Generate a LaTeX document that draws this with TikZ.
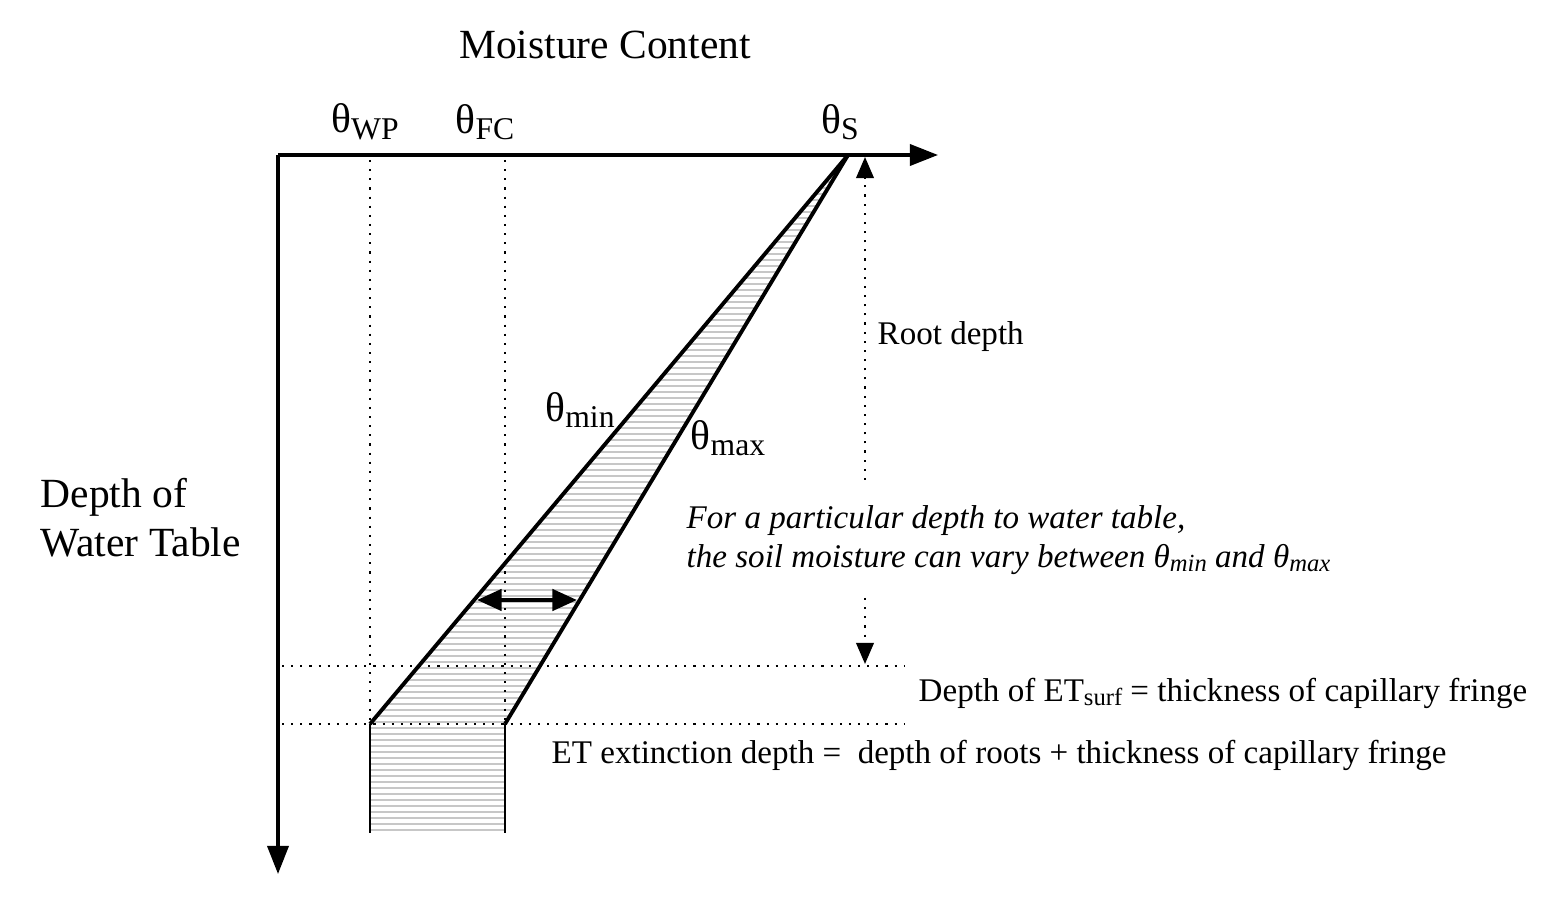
\documentclass[tikz,border=0pt]{standalone}
\usepackage{fontspec}
\setmainfont{Liberation Serif}
\usetikzlibrary{arrows.meta,positioning,calc}
\tikzstyle{axisline}=[line width=1pt,-{Triangle[length=8pt,width=6pt]}]
\tikzstyle{guide}=[dotted,line width=0.6pt]
\tikzstyle{bound}=[line width=1.1pt]
\tikzstyle{lbl}=[font=\fontsize{9.4}{11}\selectfont,inner sep=0pt]
\tikzstyle{biglbl}=[font=\fontsize{11.8}{14}\selectfont,inner sep=0pt]
\newcommand{\thsub}[1]{θ\raisebox{-0.35ex}{\fontsize{9}{10}\selectfont #1}}
\newcommand{\thsmall}[1]{\textit{θ\raisebox{-0.3ex}{\fontsize{7}{8}\selectfont #1}}}
\begin{document}
\begin{tikzpicture}[x=0.01cm,y=-0.01cm]
\useasboundingbox (0,0) rectangle (1564,910);

%corners of the band
\coordinate (orig) at (278,155);
\coordinate (apex) at (848,155);
\coordinate (minlow) at (370,724);
\coordinate (maxlow) at (505,724);
\coordinate (minbot) at (370,833);
\coordinate (maxbot) at (505,833);

%hatching
\begin{scope}
\clip (apex) -- (maxlow) -- (maxbot) -- (minbot) -- (minlow) -- cycle;
\foreach \y in {158,164,...,833}
  \draw[black!22,line width=0.5pt] (360,\y) -- (850,\y);
\end{scope}

%axes
\draw[axisline] (orig) -- (938,155);
\draw[axisline] (orig) -- (278,874);

%guides
\draw[guide] (370,160) -- (minlow);
\draw[guide] (505,160) -- (maxlow);
\draw[guide] (282,666) -- (905,666);
\draw[guide] (282,724) -- (905,724);

%bounds
\draw[bound] (apex) -- (minlow);
\draw[bound] (apex) -- (maxlow);
\draw[line width=0.6pt] (minlow) -- (minbot);
\draw[line width=0.6pt] (maxlow) -- (maxbot);

%arrows
\draw[guide,-{Triangle[length=6pt,width=5pt]}] (865,480) -- (865,157);
\draw[guide,-{Triangle[length=6pt,width=5pt]}] (865,598) -- (865,664);
\draw[line width=1.2pt,{Triangle[length=7pt,width=6pt]}-{Triangle[length=7pt,width=6pt]}] (477,600) -- (577,600);

%labels
\node[biglbl] (title) at (605,45) {Moisture Content};
\node[biglbl] (wp) at (365,122) {\thsub{WP}};
\node[biglbl] (fc) at (485,122) {\thsub{FC}};
\node[biglbl] (ts) at (840,122) {\thsub{S}};
\node[biglbl] (tmin) at (580,410) {\thsub{min}};
\node[biglbl] (tmax) at (728,438) {\thsub{max}};
\node[biglbl,align=left,anchor=west] (depth) at (40,518) {Depth of\\Water Table};
\node[lbl,anchor=west] (root) at (877,337) {Root depth};
\node[lbl,anchor=west,align=left] (vary) at (686,540) {\textit{For a particular depth to water table,}\\[0pt]\textit{the soil moisture can vary between} \thsmall{min} \textit{and} \thsmall{max}};
\node[lbl,anchor=west] (etsurf) at (918,693) {Depth of ET\raisebox{-0.3ex}{\fontsize{7}{8}\selectfont surf} = thickness of capillary fringe};
\node[lbl,anchor=west] (etext) at (551,755) {ET extinction depth =\ \ depth of roots + thickness of capillary fringe};
\end{tikzpicture}
\end{document}
